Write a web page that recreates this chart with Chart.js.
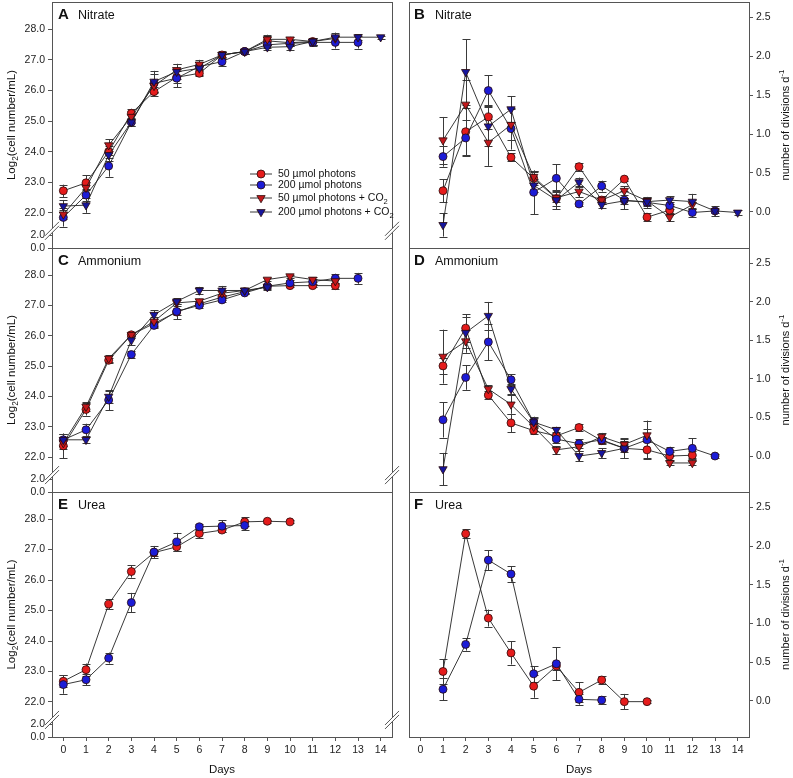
<!DOCTYPE html>
<html>
<head>
<meta charset="utf-8">
<script src="https://cdn.jsdelivr.net/npm/chart.js@4.4.0/dist/chart.umd.min.js"></script>
<style>
body { margin: 0; background: #fff; }
#wrap { position: relative; width: 793px; height: 778px; overflow: hidden; background: #fff; }
canvas { position: absolute; }
</style>
</head>
<body>
<div id="wrap">
  <canvas id="cA" width="400" height="270" style="left:0;top:-10px"></canvas>
  <canvas id="cB" width="393" height="270" style="left:400px;top:-10px"></canvas>
  <canvas id="cC" width="400" height="268" style="left:0;top:236px"></canvas>
  <canvas id="cD" width="393" height="268" style="left:400px;top:236px"></canvas>
  <canvas id="cE" width="400" height="298" style="left:0;top:480px"></canvas>
  <canvas id="cF" width="393" height="298" style="left:400px;top:480px"></canvas>
</div>
<script>
// ---- data ----
var dayTicks = [0,1,2,3,4,5,6,7,8,9,10,11,12,13,14];
var logTicks = [22,23,24,25,26,27,28];
var breakTickVals = [20.85, 21.26];
var breakTickText = ['0.0', '2.0'];
var rateTicks = [0, 0.5, 1.0, 1.5, 2.0, 2.5];

// log2 cell numbers, from day 0
var nitLL   = [22.72,22.98,24.00,25.25,25.96,26.43,26.56,27.16,27.27,27.62,27.56,27.60];
var nitHL   = [21.85,22.58,23.53,24.96,26.23,26.40,26.78,26.94,27.27,27.49,27.54,27.57,27.57,27.57];
var nitLLc  = [21.95,22.82,24.21,25.14,26.15,26.67,26.85,27.16,27.27,27.67,27.67,27.60,27.70];
var nitHLc  = [22.22,22.25,23.89,24.96,26.29,26.61,26.72,27.16,27.27,27.41,27.43,27.60,27.74,27.74,27.74];
var nitLLe  = [0.20,0.25,0.20,0.15,0.15,0.20,0.10,0.08,0.08,0.15,0.10,0.10];
var nitHLe  = [0.30,0.20,0.35,0.12,0.30,0.30,0.15,0.15,0.08,0.10,0.10,0.12,0.20,0.20];
var nitLLce = [0.15,0.20,0.20,0.20,0.20,0.20,0.15,0.10,0.08,0.15,0.08,0.10,0.08];
var nitHLce = [0.20,0.25,0.20,0.12,0.35,0.25,0.20,0.12,0.08,0.10,0.10,0.10,0.15,0.10,0.05];

var ammLL   = [22.37,23.57,25.19,26.03,26.40,26.78,27.05,27.27,27.45,27.63,27.65,27.65,27.65];
var ammHL   = [22.57,22.90,23.88,25.38,26.34,26.80,27.00,27.18,27.41,27.63,27.74,27.78,27.89,27.89];
var ammLLc  = [22.46,23.66,25.25,26.03,26.47,27.08,27.14,27.40,27.49,27.85,27.96,27.85,27.80];
var ammHLc  = [22.57,22.57,23.99,25.85,26.69,27.13,27.49,27.49,27.49,27.60];
var ammLLe  = [0.40,0.20,0.08,0.05,0.10,0.10,0.08,0.08,0.08,0.05,0.05,0.05,0.10];
var ammHLe  = [0.20,0.20,0.33,0.10,0.10,0.25,0.08,0.08,0.05,0.08,0.08,0.10,0.15,0.18];
var ammLLce = [0.20,0.15,0.10,0.05,0.15,0.10,0.08,0.08,0.08,0.05,0.05,0.08,0.10];
var ammHLce = [0.20,0.10,0.20,0.15,0.15,0.10,0.12,0.15,0.08,0.08];

var ureLL   = [22.68,23.06,25.21,26.28,26.90,27.09,27.53,27.64,27.91,27.93,27.91];
var ureHL   = [22.57,22.73,23.44,25.26,26.92,27.25,27.75,27.77,27.79];
var ureLLe  = [0.20,0.20,0.17,0.20,0.10,0.15,0.15,0.05,0.15,0.05,0.05];
var ureHLe  = [0.30,0.18,0.18,0.32,0.20,0.30,0.10,0.20,0.15];

// divisions per day, from day 1
var nitRLL   = [0.27,1.03,1.22,0.70,0.43,0.17,0.58,0.15,0.42,-0.07,0.02];
var nitRHL   = [0.71,0.95,1.56,1.07,0.25,0.43,0.10,0.33,0.15,0.12,0.08,-0.01,0.01];
var nitRLLc  = [0.92,1.38,0.89,1.12,0.45,0.18,0.26,0.15,0.27,0.14,-0.07,0.09];
var nitRHLc  = [-0.17,1.80,1.10,1.32,0.34,0.15,0.38,0.09,0.14,0.13,0.15,0.13,0.01,-0.01];
var nitRLLe  = [0.15,0.30,0.15,0.05,0.08,0.05,0.05,0.05,0.02,0.05,0.05];
var nitRHLe  = [0.13,0.23,0.20,0.27,0.28,0.18,0.02,0.07,0.12,0.07,0.05,0.06,0.06];
var nitRLLce = [0.30,0.32,0.30,0.20,0.08,0.10,0.07,0.05,0.06,0.05,0.05,0.06];
var nitRHLce = [0.15,0.42,0.25,0.17,0.08,0.12,0.06,0.04,0.04,0.05,0.05,0.10,0.03,0.03];

var ammRLL   = [1.17,1.66,0.79,0.43,0.33,0.26,0.37,0.20,0.10,0.08,0.00,0.01];
var ammRHL   = [0.47,1.02,1.48,0.99,0.44,0.22,0.16,0.21,0.10,0.21,0.06,0.10,0.00];
var ammRLLc  = [1.29,1.49,0.87,0.67,0.38,0.08,0.12,0.25,0.15,0.27,-0.09,-0.09];
var ammRHLc  = [-0.17,1.60,1.82,0.87,0.44,0.34,0.00,0.04,0.10];
var ammRLLe  = [0.10,0.18,0.05,0.12,0.05,0.05,0.05,0.05,0.05,0.10,0.05,0.05];
var ammRHLe  = [0.23,0.16,0.24,0.07,0.07,0.05,0.06,0.04,0.13,0.25,0.06,0.13,0.02];
var ammRLLce = [0.35,0.15,0.05,0.12,0.05,0.05,0.05,0.05,0.05,0.08,0.03,0.03];
var ammRHLce = [0.21,0.20,0.18,0.06,0.05,0.04,0.07,0.06,0.12];

var ureRLL   = [0.38,2.16,1.07,0.62,0.19,0.45,0.11,0.27,-0.01,-0.01];
var ureRHL   = [0.15,0.73,1.82,1.64,0.35,0.48,0.02,0.01];
var ureRLLe  = [0.16,0.06,0.11,0.15,0.15,0.05,0.13,0.05,0.10,0.02];
var ureRHLe  = [0.14,0.08,0.13,0.10,0.10,0.21,0.07,0.05];

var seriesNames = ['50 \u00b5mol photons', '200 \u00b5mol photons', '50 \u00b5mol photons + CO', '200 \u00b5mol photons + CO'];
var seriesSubs = ['', '', '2', '2'];

// ---- styles ----
var FONT = '"Liberation Sans", Arial, sans-serif';
var looks = [
  { fill: '#e51c1c', shape: 'circle' },
  { fill: '#1c1cd6', shape: 'circle' },
  { fill: '#c2181c', shape: 'tri' },
  { fill: '#16169e', shape: 'tri' }
];

function pts(start, vals) {
  return vals.map(function (v, i) { return { x: start + i, y: v }; });
}

function makeSet(k, start, vals, errs) {
  var l = looks[k];
  return {
    data: pts(start, vals),
    errs: errs,
    borderColor: '#222',
    borderWidth: 0.9,
    tension: 0,
    fill: false,
    pointStyle: l.shape === 'tri' ? 'triangle' : 'circle',
    pointRotation: l.shape === 'tri' ? 180 : 0,
    pointRadius: l.shape === 'tri' ? 4.8 : 4,
    pointBackgroundColor: l.fill,
    pointBorderColor: '#2a0a0a',
    pointBorderWidth: 0.8
  };
}

function drawMarker(ctx, shape, x, y, fill) {
  ctx.beginPath();
  if (shape === 'tri') {
    var r = 4.8;
    ctx.moveTo(x, y + r);
    ctx.lineTo(x - r * 0.866, y - r / 2);
    ctx.lineTo(x + r * 0.866, y - r / 2);
    ctx.closePath();
  } else {
    ctx.arc(x, y, 4, 0, Math.PI * 2);
  }
  ctx.fillStyle = fill;
  ctx.fill();
  ctx.strokeStyle = '#2a0a0a';
  ctx.lineWidth = 0.8;
  ctx.stroke();
}

// text with a sub (+1) or super (-1) script part, rotated or not
function richText(ctx, parts, cx, cy, size, rot) {
  ctx.save();
  ctx.translate(cx, cy);
  if (rot) ctx.rotate(-Math.PI / 2);
  ctx.textBaseline = 'middle';
  ctx.fillStyle = '#111';
  var w = 0;
  parts.forEach(function (p) {
    ctx.font = (p.s ? size * 0.72 : size) + 'px ' + FONT;
    p.w = ctx.measureText(p.t).width;
    w += p.w;
  });
  var x = rot ? -w / 2 : 0;
  parts.forEach(function (p) {
    ctx.font = (p.s ? size * 0.72 : size) + 'px ' + FONT;
    var dy = p.s === 1 ? size * 0.35 : (p.s === -1 ? -size * 0.4 : 0);
    ctx.fillText(p.t, x, dy);
    x += p.w;
  });
  ctx.restore();
}

function drawBreak(ctx, x, y) {
  ctx.save();
  ctx.fillStyle = '#fff';
  ctx.beginPath();
  ctx.moveTo(x - 6, y + 6); ctx.lineTo(x + 6, y - 6);
  ctx.lineTo(x + 6, y - 2); ctx.lineTo(x - 6, y + 10);
  ctx.closePath();
  ctx.fill();
  ctx.strokeStyle = '#555';
  ctx.lineWidth = 1;
  ctx.beginPath();
  ctx.moveTo(x - 7, y + 7); ctx.lineTo(x + 7, y - 7);
  ctx.moveTo(x - 7, y + 11); ctx.lineTo(x + 7, y - 3);
  ctx.stroke();
  ctx.restore();
}

var panelPlugin = {
  id: 'panelPlugin',
  beforeDatasetsDraw: function (chart) {
    var ctx = chart.ctx, a = chart.chartArea;
    var xs = chart.scales.x, ys = chart.scales.y;
    ctx.save();
    ctx.strokeStyle = '#555';
    ctx.lineWidth = 1;
    ctx.strokeRect(Math.round(a.left) + 0.5, Math.round(a.top) + 0.5,
      Math.round(a.right - a.left), Math.round(a.bottom - a.top));
    ctx.strokeStyle = '#3a3a3a';
    chart.data.datasets.forEach(function (ds) {
      ds.data.forEach(function (p, i) {
        var e = ds.errs[i];
        if (!e) return;
        var x = Math.round(xs.getPixelForValue(p.x)) + 0.5;
        var y1 = ys.getPixelForValue(p.y + e);
        var y2 = ys.getPixelForValue(p.y - e);
        ctx.beginPath();
        ctx.moveTo(x, y1); ctx.lineTo(x, y2);
        ctx.moveTo(x - 4, Math.round(y1) + 0.5); ctx.lineTo(x + 4, Math.round(y1) + 0.5);
        ctx.moveTo(x - 4, Math.round(y2) + 0.5); ctx.lineTo(x + 4, Math.round(y2) + 0.5);
        ctx.stroke();
      });
    });
    ctx.restore();
  },
  afterDraw: function (chart) {
    var ctx = chart.ctx, a = chart.chartArea;
    var o = chart.options.plugins.panelPlugin;
    ctx.save();
    ctx.fillStyle = '#111';
    ctx.textBaseline = 'alphabetic';
    ctx.font = 'bold 15px ' + FONT;
    ctx.fillText(o.letter, a.left + (o.side === 'left' ? 6 : 5), a.top + 17);
    ctx.font = '12.5px ' + FONT;
    ctx.fillText(o.name, a.left + 26, a.top + 17);
    ctx.restore();
    var cy = (a.top + a.bottom) / 2;
    if (o.side === 'left') {
      var yb = chart.scales.y.getPixelForValue(22) + 16;
      drawBreak(ctx, a.left, yb);
      drawBreak(ctx, a.right, yb);
      richText(ctx, [{ t: 'Log' }, { t: '2', s: 1 }, { t: '(cell number/mL)' }], 12, cy, 11.5, true);
    } else {
      richText(ctx, [{ t: 'number of divisions d' }, { t: '-1', s: -1 }], chart.width - 7, cy, 11, true);
    }
    if (o.legend) {
      ctx.save();
      for (var k = 0; k < 4; k++) {
        var ly = a.bottom - [74, 63, 50, 36][k];
        ctx.strokeStyle = '#222';
        ctx.lineWidth = 0.9;
        ctx.beginPath();
        ctx.moveTo(a.left + 198, ly); ctx.lineTo(a.left + 220, ly);
        ctx.stroke();
        drawMarker(ctx, looks[k].shape, a.left + 209, ly, looks[k].fill);
        var parts = [{ t: seriesNames[k] }];
        if (seriesSubs[k]) parts.push({ t: seriesSubs[k], s: 1 });
        richText(ctx, parts, a.left + 226, ly, 10.5, false);
      }
      ctx.restore();
    }
  }
};

function makeChart(id, side, showX, letter, name, legend, sets) {
  var isLeft = side === 'left';
  return new Chart(document.getElementById(id), {
    type: 'line',
    data: { datasets: sets },
    plugins: [panelPlugin],
    options: {
      responsive: false,
      animation: false,
      events: [],
      layout: {
        padding: {
          top: 12,
          bottom: showX ? 0 : 12,
          left: isLeft ? 0 : 9,
          right: isLeft ? 8 : 0
        }
      },
      plugins: {
        legend: { display: false },
        tooltip: { enabled: false },
        panelPlugin: { side: side, letter: letter, name: name, legend: legend }
      },
      scales: {
        x: {
          type: 'linear',
          min: -0.5,
          max: 14.5,
          display: showX,
          afterBuildTicks: function (s) { s.ticks = dayTicks.map(function (v) { return { value: v }; }); },
          afterFit: function (s) { if (showX) s.height = 41; },
          grid: { drawOnChartArea: false, drawTicks: true, tickLength: 4, color: '#555' },
          border: { display: false },
          ticks: {
            autoSkip: false, maxRotation: 0, padding: 3, color: '#222',
            font: { family: FONT, size: 10.5 },
            callback: function (v) { return String(v); }
          },
          title: {
            display: true, text: 'Days', color: '#111',
            font: { family: FONT, size: 11.5 },
            padding: { top: 0, bottom: 1 }
          }
        },
        y: {
          type: 'linear',
          position: side,
          min: isLeft ? 20.85 : -0.467,
          max: isLeft ? 28.89 : 2.70,
          afterBuildTicks: function (s) {
            var vals = isLeft ? breakTickVals.concat(logTicks) : rateTicks;
            s.ticks = vals.map(function (v) { return { value: v }; });
          },
          afterFit: function (s) { s.width = isLeft ? 52 : 44; },
          grid: { drawOnChartArea: false, drawTicks: true, tickLength: 4, color: '#555' },
          border: { display: false },
          ticks: {
            autoSkip: false, padding: 3, color: '#222',
            font: { family: FONT, size: 10.5 },
            callback: function (v) {
              var b = breakTickVals.indexOf(v);
              if (isLeft && b >= 0) return breakTickText[b];
              return v.toFixed(1);
            }
          }
        }
      }
    }
  });
}

makeChart('cA', 'left', false, 'A', 'Nitrate', true, [
  makeSet(3, 0, nitHLc, nitHLce),
  makeSet(2, 0, nitLLc, nitLLce),
  makeSet(1, 0, nitHL, nitHLe),
  makeSet(0, 0, nitLL, nitLLe)
]);
makeChart('cB', 'right', false, 'B', 'Nitrate', false, [
  makeSet(3, 1, nitRHLc, nitRHLce),
  makeSet(2, 1, nitRLLc, nitRLLce),
  makeSet(1, 1, nitRHL, nitRHLe),
  makeSet(0, 1, nitRLL, nitRLLe)
]);
makeChart('cC', 'left', false, 'C', 'Ammonium', false, [
  makeSet(3, 0, ammHLc, ammHLce),
  makeSet(2, 0, ammLLc, ammLLce),
  makeSet(1, 0, ammHL, ammHLe),
  makeSet(0, 0, ammLL, ammLLe)
]);
makeChart('cD', 'right', false, 'D', 'Ammonium', false, [
  makeSet(3, 1, ammRHLc, ammRHLce),
  makeSet(2, 1, ammRLLc, ammRLLce),
  makeSet(1, 1, ammRHL, ammRHLe),
  makeSet(0, 1, ammRLL, ammRLLe)
]);
makeChart('cE', 'left', true, 'E', 'Urea', false, [
  makeSet(1, 0, ureHL, ureHLe),
  makeSet(0, 0, ureLL, ureLLe)
]);
makeChart('cF', 'right', true, 'F', 'Urea', false, [
  makeSet(1, 1, ureRHL, ureRHLe),
  makeSet(0, 1, ureRLL, ureRLLe)
]);
</script>
</body>
</html>
